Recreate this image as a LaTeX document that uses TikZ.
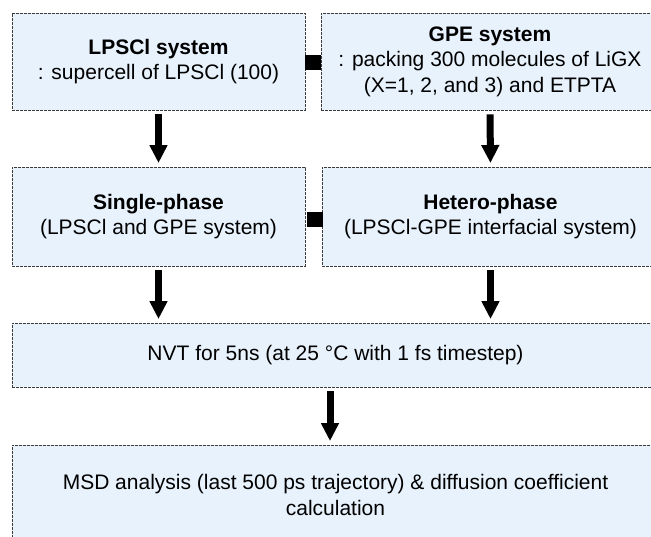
\documentclass[tikz,border=0pt]{standalone}
\usepackage{fontspec}
\setmainfont{Liberation Sans}
\usetikzlibrary{arrows.meta}
\definecolor{boxfill}{RGB}{232,242,252}
\definecolor{boxline}{RGB}{60,60,60}
\tikzset{
  flowbox/.style={draw=boxline, fill=boxfill, line width=0.9pt,
    dash pattern=on 2.6pt off 1.4pt, rectangle, align=center,
    inner sep=0pt, font=\fontsize{21}{25.5}\selectfont},
  joiner/.style={fill=black, draw=none, rectangle, inner sep=0pt},
  arr/.style={line width=7pt, -{Triangle[width=17pt,length=18pt]},
    shorten <=4pt, shorten >=3.5pt}
}
\begin{document}
\begin{tikzpicture}[x=1pt,y=-1pt]
\useasboundingbox (0,0) rectangle (651,537);
\clip (0,0) rectangle (651,537);
\node[flowbox, minimum width=293pt, minimum height=97pt] (lps) at (158.5,61.5)
  {\textbf{LPSCl system}\\: supercell of LPSCl (100)};
\node[flowbox, minimum width=338pt, minimum height=97pt] (gpe) at (490,61.5)
  {\textbf{GPE system}\\: packing 300 molecules of LiGX\\(X=1, 2, and 3) and ETPTA};
\node[flowbox, minimum width=293pt, minimum height=99pt] (single) at (158.5,216.5)
  {\textbf{Single-phase}\\(LPSCl and GPE system)};
\node[flowbox, minimum width=337pt, minimum height=99pt] (hetero) at (490.5,216.5)
  {\textbf{Hetero-phase}\\(LPSCl-GPE interfacial system)};
\node[flowbox, minimum width=647pt, minimum height=64pt] (nvt) at (335.5,355)
  {NVT for 5ns (at 25 °C with 1 fs timestep)};
\node[flowbox, minimum width=647pt, minimum height=100pt] (msd) at (335.5,495)
  {MSD analysis (last 500 ps trajectory) \& diffusion coefficient\\calculation};
\node[joiner, minimum width=16pt, minimum height=15pt] (sq1) at (313,62.5) {};
\node[joiner, minimum width=16pt, minimum height=15pt] (sq2) at (314.5,219.5) {};
\draw[arr] (lps.south) -- (single.north);
\draw[arr] (gpe.south) -- (hetero.north);
\draw[arr] (single.south) -- (single.south |- nvt.north);
\draw[arr] (hetero.south) -- (hetero.south |- nvt.north);
\draw[arr] ([xshift=-5.5pt]nvt.south) -- ([xshift=-5.5pt]msd.north);
\end{tikzpicture}
\end{document}
